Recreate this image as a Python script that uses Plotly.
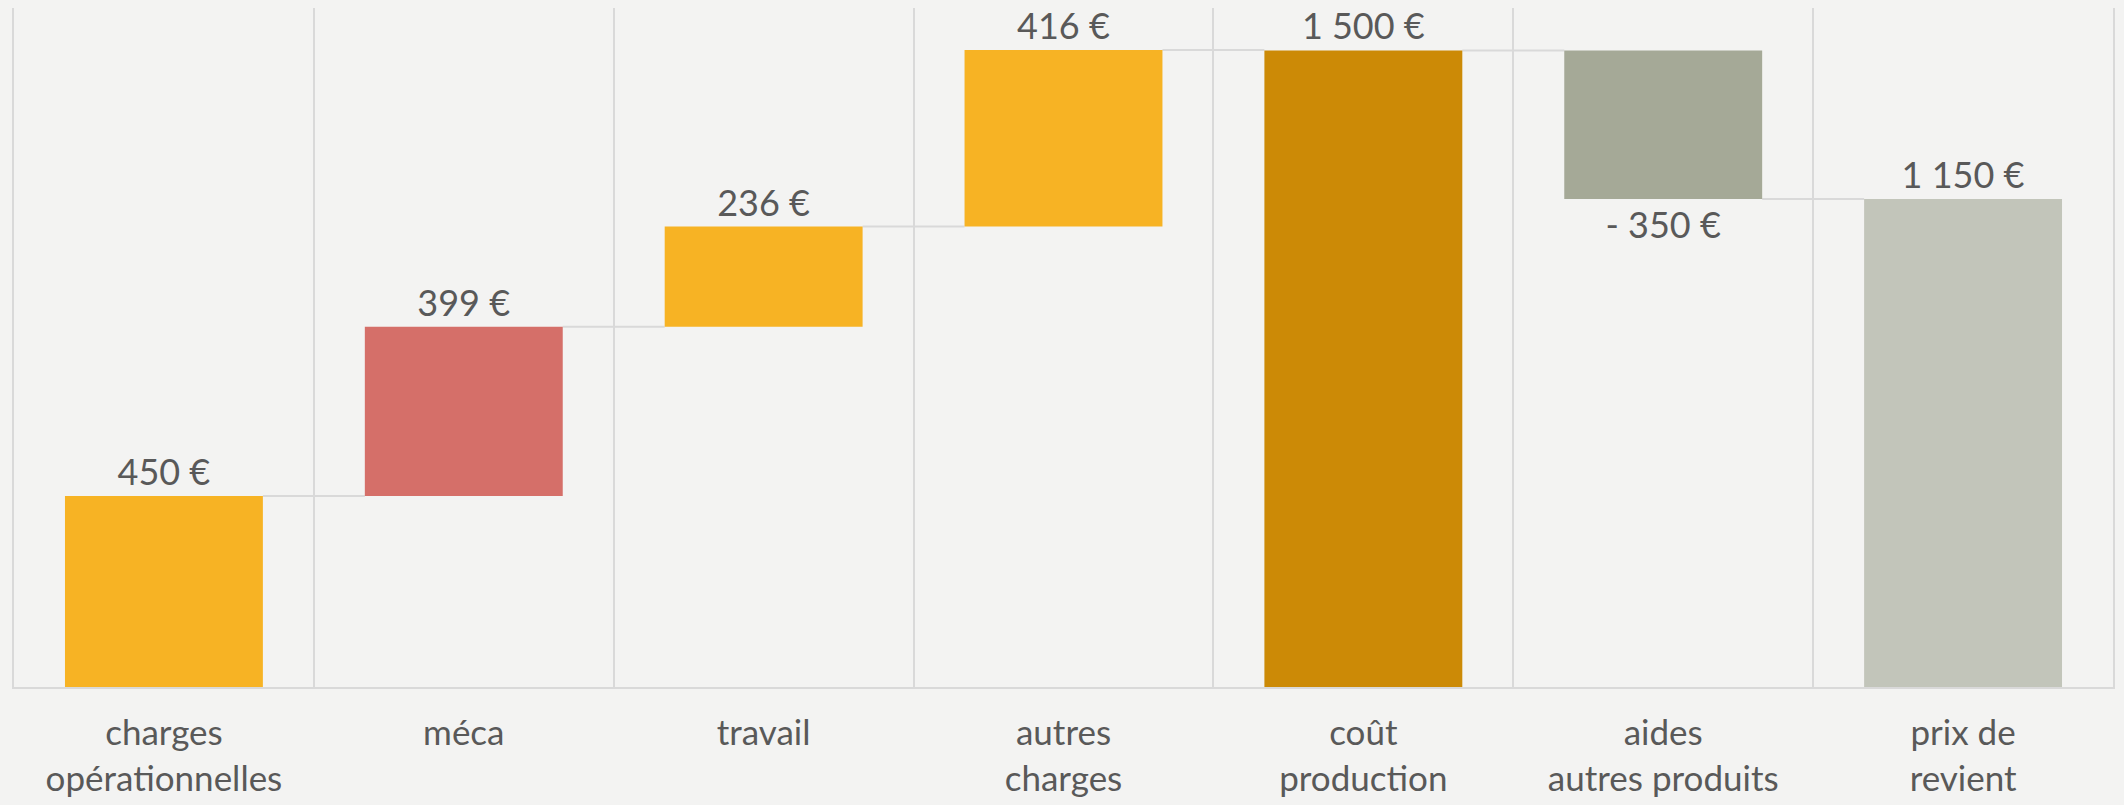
import plotly.graph_objects as go

categories = ["charges<br>opérationnelles", "méca", "travail", "autres<br>charges",
              "coût<br>production", "aides<br>autres produits", "prix de<br>revient"]
values = [450, 399, 236, 416, 1500, -350, 1150]
kinds = ["relative", "relative", "relative", "relative", "total", "relative", "total"]
colors = ["#F7B324", "#D56F69", "#F7B324", "#F7B324", "#CC8A06", "#A5A997", "#C2C5BA"]

BG = "#F3F3F2"
GRID = "#D9D9D9"
TEXT = "#595959"
FONT = "Lato"
BARGAP = 0.34


def fmt(v):
    s = f"{abs(v):,}".replace(",", " ") + " €"
    return ("- " + s) if v < 0 else s


bases, heights, ends = [], [], []
cum = 0
for v, k in zip(values, kinds):
    if k == "total":
        bases.append(0)
        heights.append(v)
        cum = v
    else:
        bases.append(cum)
        heights.append(v)
        cum += v
    ends.append(cum)

labels = [fmt(v) for v in values]

fig = go.Figure()
fig.add_trace(go.Bar(
    x=categories, y=heights, base=bases,
    marker=dict(color=colors, line=dict(width=0)),
    text=labels, textposition="outside", cliponaxis=False,
    textfont=dict(family=FONT, size=36, color=TEXT),
    hoverinfo="skip",
))

half = (1 - BARGAP) / 2
for i in range(len(values) - 1):
    fig.add_shape(type="line", xref="x", yref="y",
                  x0=i + half, x1=i + 1 - half, y0=ends[i], y1=ends[i],
                  line=dict(color=GRID, width=2), layer="below")

fig.update_layout(
    width=2124, height=805,
    paper_bgcolor=BG, plot_bgcolor=BG,
    margin=dict(l=14, r=11, t=8, b=118),
    bargap=BARGAP, showlegend=False,
    font=dict(family=FONT, color=TEXT),
    xaxis=dict(type="category", tickson="boundaries", showgrid=True, gridcolor=GRID,
               gridwidth=2, showline=True, linecolor=GRID, linewidth=2, mirror=False,
               ticks="", ticklabelstandoff=14,
               tickfont=dict(family=FONT, size=35, color=TEXT), zeroline=False),
    yaxis=dict(range=[0, 1600], showticklabels=False, ticks="", showgrid=False,
               zeroline=False, showline=True, mirror=True, linecolor=GRID, linewidth=2),
)

fig.write_html(
    "out.html",
    config={"displayModeBar": False},
    post_script="document.body.style.margin='0';document.body.style.background='#F3F3F2';",
)
